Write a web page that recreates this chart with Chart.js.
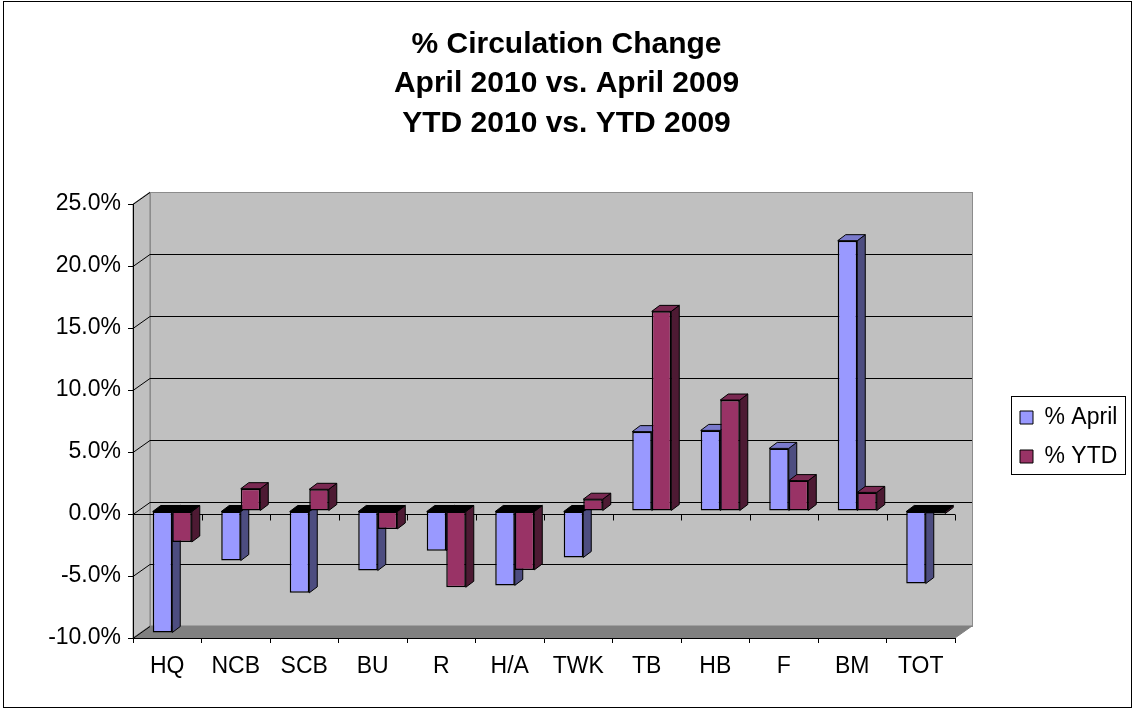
<!DOCTYPE html>
<html>
<head>
<meta charset="utf-8">
<title>% Circulation Change</title>
<script src="https://cdn.jsdelivr.net/npm/chart.js@4.4.0/dist/chart.umd.min.js"></script>
<style>
  html, body { margin: 0; padding: 0; background: #fff; }
  #wrap { width: 1133px; height: 709px; }
</style>
</head>
<body>
<div id="wrap"><canvas id="chart" width="1133" height="709"></canvas></div>
<script>
// values (percent)
const CATEGORIES = ["HQ", "NCB", "SCB", "BU", "R", "H/A", "TWK", "TB", "HB", "F", "BM", "TOT"];
const APRIL = [-9.8, -4.0, -6.6, -4.8, -3.2, -6.0, -3.75, 6.4, 6.5, 5.05, 21.8, -5.85];
const YTD = [-2.5, 1.8, 1.75, -1.45, -6.15, -4.75, 0.95, 16.1, 8.95, 2.45, 1.5, -0.2];
const SERIES_NAMES = ["% April", "% YTD"];
const TITLE_LINES = ["% Circulation Change", "April 2010 vs. April 2009", "YTD 2010 vs. YTD 2009"];
const Y_MIN = -10, Y_MAX = 25, Y_STEP = 5;

// colours: front, side, top
const FRONT = ["#9999FF", "#993366"];
const SIDE = ["#4D4D80", "#4D1A33"];
const TOP = ["#7A7ACC", "#7A2952"];

// fake 3d offsets
const WALL = { dx: 17, dy: -12 };
const SHIFT = { dx: 5, dy: -3 };
const DEPTH = { dx: 8, dy: -6 };

Chart.defaults.font.family = '"Liberation Sans", Arial, sans-serif';
Chart.defaults.color = "#000";

function poly(ctx, pts, fill, stroke) {
  ctx.beginPath();
  ctx.moveTo(pts[0][0], pts[0][1]);
  for (let i = 1; i < pts.length; i++) ctx.lineTo(pts[i][0], pts[i][1]);
  ctx.closePath();
  if (fill) { ctx.fillStyle = fill; ctx.fill(); }
  if (stroke) { ctx.strokeStyle = stroke; ctx.stroke(); }
}

const excel3d = {
  id: "excel3d",
  afterLayout(chart) {
    // title centred on the whole canvas, legend parked at the right
    const t = chart.titleBlock;
    t.left = 0; t.right = chart.width; t.width = chart.width;
    const lg = chart.legend;
    lg.left = 1004; lg.right = 1130; lg.top = 390; lg.bottom = 640;
    lg.width = lg.right - lg.left; lg.height = lg.bottom - lg.top;
  },
  beforeDraw(chart) {
    const { ctx, chartArea: a, scales: { y } } = chart;
    const L = a.left, R = a.right, T = a.top, B = a.bottom;
    ctx.save();
    ctx.fillStyle = "#fff";
    ctx.fillRect(0, 0, chart.width, chart.height);
    ctx.lineWidth = 1;
    ctx.strokeStyle = "#000";
    ctx.strokeRect(3.5, 1.5, 1128, 706);

    // back wall, side wall, floor
    ctx.fillStyle = "#C0C0C0";
    ctx.fillRect(L + WALL.dx, T + WALL.dy, R - L, B - T);
    poly(ctx, [[L, T], [L + WALL.dx, T + WALL.dy], [L + WALL.dx, B + WALL.dy], [L, B]], "#C0C0C0", "#808080");
    ctx.strokeStyle = "#8C8C8C";
    ctx.strokeRect(Math.round(L + WALL.dx) + 0.5, Math.round(T + WALL.dy) + 0.5, R - L, B - T);
    poly(ctx, [[L, B], [R, B], [R + WALL.dx, B + WALL.dy], [L + WALL.dx, B + WALL.dy]], "#808080", "#808080");

    // gridlines on the walls
    ctx.strokeStyle = "#000";
    y.ticks.forEach(t => {
      const py = Math.round(y.getPixelForValue(t.value)) + 0.5;
      ctx.beginPath();
      ctx.moveTo(L, py);
      ctx.lineTo(L + WALL.dx, py + WALL.dy);
      if (t.value > Y_MIN && t.value < Y_MAX) ctx.lineTo(R + WALL.dx, py + WALL.dy);
      ctx.stroke();
    });

    // zero line on the front plane
    const z = Math.round(y.getPixelForValue(0)) + 0.5;
    const cw = (R - L) / CATEGORIES.length;
    ctx.beginPath();
    ctx.moveTo(L, z);
    ctx.lineTo(R, z);
    for (let i = 1; i <= CATEGORIES.length; i++) {
      const px = Math.round(L + i * cw) + 0.5;
      ctx.moveTo(px, z);
      ctx.lineTo(px, z + 6);
    }
    ctx.stroke();
    ctx.restore();
  },
  beforeDatasetsDraw(chart) {
    // side and top faces of every bar, blue before red in each group
    const ctx = chart.ctx;
    ctx.save();
    ctx.lineWidth = 1;
    for (let j = 0; j < CATEGORIES.length; j++) {
      chart.data.datasets.forEach((ds, i) => {
        const el = chart.getDatasetMeta(i).data[j];
        const p = el.getProps(["x", "y", "base", "width"], true);
        const l = p.x - p.width / 2 + SHIFT.dx;
        const r = p.x + p.width / 2 + SHIFT.dx;
        const top = Math.min(p.y, p.base) + SHIFT.dy;
        const bot = Math.max(p.y, p.base) + SHIFT.dy;
        poly(ctx, [[r, top], [r + DEPTH.dx, top + DEPTH.dy], [r + DEPTH.dx, bot + DEPTH.dy], [r, bot]], SIDE[i], "#000");
        poly(ctx, [[l, top], [r, top], [r + DEPTH.dx, top + DEPTH.dy], [l + DEPTH.dx, top + DEPTH.dy]],
          ds.data[j] < 0 ? "#000" : TOP[i], "#000");
      });
    }
    ctx.restore();
  },
  beforeDatasetDraw(chart) {
    chart.ctx.save();
    chart.ctx.translate(SHIFT.dx, SHIFT.dy);
  },
  afterDatasetDraw(chart) {
    chart.ctx.restore();
  },
  afterDraw(chart) {
    const ctx = chart.ctx;
    ctx.save();
    ctx.strokeStyle = "#000";
    ctx.lineWidth = 1;
    ctx.strokeRect(1011.5, 396.5, 114, 78);
    ctx.restore();
  }
};

new Chart(document.getElementById("chart"), {
  type: "bar",
  data: {
    labels: CATEGORIES,
    datasets: [
      { label: SERIES_NAMES[0], data: APRIL, backgroundColor: FRONT[0] },
      { label: SERIES_NAMES[1], data: YTD, backgroundColor: FRONT[1] },
    ],
  },
  options: {
    responsive: false,
    animation: false,
    layout: { padding: { left: 0, right: 178, top: 0, bottom: 0 } },
    datasets: {
      bar: {
        borderColor: "#000",
        borderWidth: 1.5,
        borderSkipped: false,
        categoryPercentage: 0.57,
        barPercentage: 1,
        clip: false,
      },
    },
    plugins: {
      title: {
        display: true,
        text: TITLE_LINES,
        color: "#000",
        font: { size: 30, weight: "bold", lineHeight: 39.5 / 30 },
        padding: { top: 24.5, bottom: 61 },
      },
      legend: {
        position: "chartArea",
        align: "start",
        labels: {
          color: "#000",
          font: { size: 23 },
          boxWidth: 13,
          boxHeight: 13,
          padding: 16,
          generateLabels: c => Chart.defaults.plugins.legend.labels.generateLabels(c)
            .map(item => Object.assign(item, { lineWidth: 1, strokeStyle: "#000" })),
        },
      },
      tooltip: { enabled: false },
    },
    scales: {
      x: {
        grid: { offset: true, drawOnChartArea: false, drawTicks: true, tickLength: 5, color: "#000" },
        border: { display: true, color: "#000" },
        ticks: { font: { size: 23 }, padding: 10, color: "#000", maxRotation: 0 },
        afterFit: s => { s.height = 71; },
      },
      y: {
        min: Y_MIN,
        max: Y_MAX,
        grid: { drawOnChartArea: false, drawTicks: true, tickLength: 5, color: "#000" },
        border: { display: true, color: "#000" },
        ticks: {
          stepSize: Y_STEP,
          padding: 7,
          font: { size: 23 },
          color: "#000",
          callback: v => v.toFixed(1) + "%",
        },
        afterFit: s => { s.width = 133; },
      },
    },
  },
  plugins: [excel3d],
});
</script>
</body>
</html>
